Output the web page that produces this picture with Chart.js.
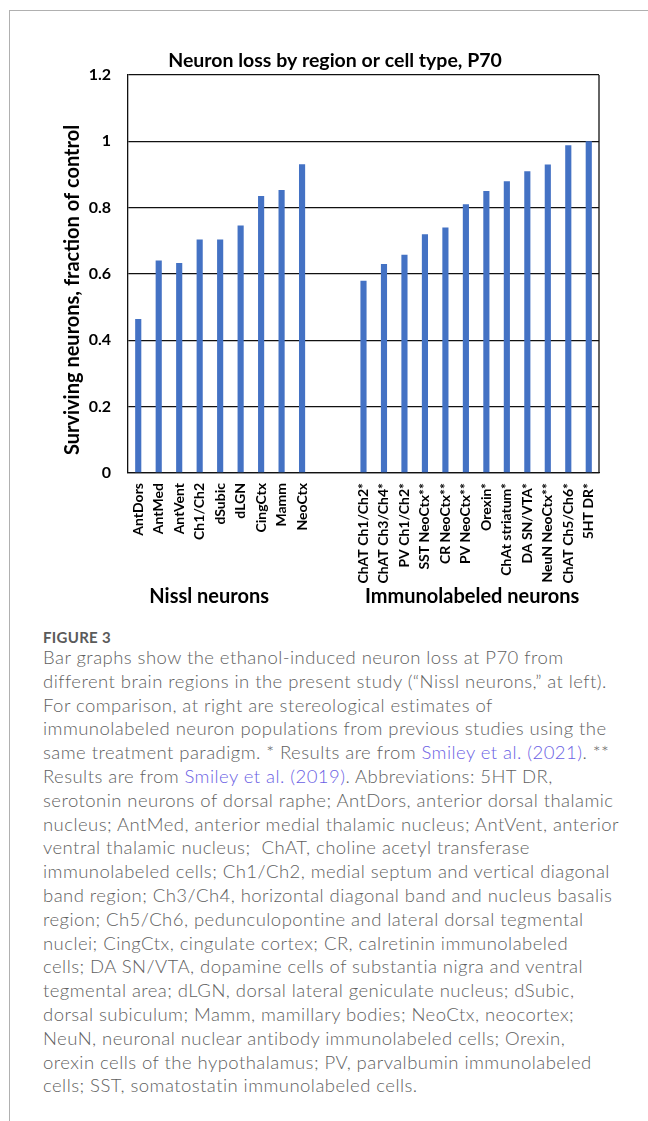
<!DOCTYPE html>
<html>
<head>
<meta charset="utf-8">
<script src="https://cdn.jsdelivr.net/npm/chart.js@4.4.1/dist/chart.umd.min.js"></script>
<style>
  html, body { margin: 0; padding: 0; background: #fff; }
  body { width: 648px; height: 1121px; position: relative; overflow: hidden; }
  #frame { position: absolute; left: 9px; top: 10px; right: 0; bottom: 0;
           border-left: 1.5px solid #b0b0b0; border-top: 1.5px solid #b0b0b0; }
  #wrap { position: absolute; left: 0; top: 0; width: 648px; height: 620px; }
  .figlabel { position: absolute; left: 43px; top: 628px; font: 700 15px/18px Lato, sans-serif;
              color: #5a5a5a; letter-spacing: 0.3px; }
  .caption { position: absolute; left: 43px; top: 646px; width: 600px; white-space: nowrap;
             font: 300 18.5px/23.8px Lato, sans-serif; color: #5f5f5f; letter-spacing: 0.45px; }
  .caption a { color: #6b5fe4; text-decoration: none; }
</style>
</head>
<body>
<div id="frame"></div>
<div id="wrap"><canvas id="c-loss"></canvas></div>
<div class="figlabel">FIGURE 3</div>
<div class="caption">
Bar graphs show the ethanol-induced neuron loss at P70 from<br>
different brain regions in the present study (“Nissl neurons,” at left).<br>
For comparison, at right are stereological estimates of<br>
immunolabeled neuron populations from previous studies using the<br>
same treatment paradigm. * Results are from <a href="#">Smiley et al. (2021)</a>. **<br>
Results are from <a href="#">Smiley et al. (2019)</a>. Abbreviations: 5HT DR,<br>
serotonin neurons of dorsal raphe; AntDors, anterior dorsal thalamic<br>
nucleus; AntMed, anterior medial thalamic nucleus; AntVent, anterior<br>
ventral thalamic nucleus;&nbsp; ChAT, choline acetyl transferase<br>
immunolabeled cells; Ch1/Ch2, medial septum and vertical diagonal<br>
band region; Ch3/Ch4, horizontal diagonal band and nucleus basalis<br>
region; Ch5/Ch6, pedunculopontine and lateral dorsal tegmental<br>
nuclei; CingCtx, cingulate cortex; CR, calretinin immunolabeled<br>
cells; DA SN/VTA, dopamine cells of substantia nigra and ventral<br>
tegmental area; dLGN, dorsal lateral geniculate nucleus; dSubic,<br>
dorsal subiculum; Mamm, mamillary bodies; NeoCtx, neocortex;<br>
NeuN, neuronal nuclear antibody immunolabeled cells; Orexin,<br>
orexin cells of the hypothalamus; PV, parvalbumin immunolabeled<br>
cells; SST, somatostatin immunolabeled cells.
</div>
<script>
// data
const nisslLabels = ['AntDors', 'AntMed', 'AntVent', 'Ch1/Ch2', 'dSubic', 'dLGN', 'CingCtx', 'Mamm', 'NeoCtx'];
const nisslValues = [0.464, 0.641, 0.633, 0.704, 0.704, 0.746, 0.835, 0.853, 0.931];
const immunoLabels = ['ChAT Ch1/Ch2*', 'ChAT Ch3/Ch4*', 'PV Ch1/Ch2*', 'SST NeoCtx**', 'CR NeoCtx**', 'PV NeoCtx**',
                      'Orexin*', 'ChAt striatum*', 'DA SN/VTA*', 'NeuN NeoCtx**', 'ChAT Ch5/Ch6*', '5HT DR*'];
const immunoValues = [0.58, 0.63, 0.658, 0.72, 0.74, 0.81, 0.85, 0.88, 0.91, 0.93, 0.988, 1.0];
const gapSlots = 2; // empty categories between the two groups
const groupTitles = ['Nissl neurons', 'Immunolabeled neurons'];
const chartTitle = 'Neuron loss by region or cell type, P70';
const yTitle = 'Surviving neurons, fraction of control';
const yMin = 0, yMax = 1.2, yStep = 0.2;

const FONT = 'Lato, sans-serif';
const blanks = new Array(gapSlots).fill('');
const labels = [...nisslLabels, ...blanks, ...immunoLabels];
const values = [...nisslValues, ...blanks.map(() => null), ...immunoValues];

const figText = {
    id: 'figText',
    beforeDatasetsDraw(chart) {
        const { ctx, chartArea: a } = chart;
        ctx.save();
        ctx.strokeStyle = '#111';
        ctx.lineWidth = 1.3;
        ctx.beginPath();
        ctx.moveTo(a.right, a.top);
        ctx.lineTo(a.right, a.bottom);
        ctx.stroke();
        ctx.restore();
    },
    afterDraw(chart) {
        const { ctx, chartArea: a, scales: { x } } = chart;
        ctx.save();
        ctx.fillStyle = '#000';
        ctx.textAlign = 'center';
        ctx.textBaseline = 'alphabetic';

        ctx.font = 'bold 19.5px ' + FONT;
        ctx.fillText(chartTitle, a.left + 207, 67);

        // group captions under the category labels
        ctx.font = 'bold 20px ' + FONT;
        const n1 = nisslLabels.length;
        const i0 = n1 + gapSlots, i1 = labels.length - 1;
        const c1 = (x.getPixelForValue(0) + x.getPixelForValue(n1 - 1)) / 2 - 11;
        const c2 = (x.getPixelForValue(i0) + x.getPixelForValue(i1)) / 2 - 4;
        ctx.fillText(groupTitles[0], c1, 603);
        ctx.fillText(groupTitles[1], c2, 603);

        // y axis title
        ctx.translate(73, (a.top + a.bottom) / 2 + 16);
        ctx.rotate(-Math.PI / 2);
        ctx.textBaseline = 'middle';
        ctx.font = 'bold 20px ' + FONT;
        ctx.fillText(yTitle, 0, 0);
        ctx.restore();
    }
};

new Chart(document.getElementById('c-loss'), {
    type: 'bar',
    data: {
        labels: labels,
        datasets: [{
            data: values,
            backgroundColor: '#4472C4',
            borderWidth: 0,
            barPercentage: 0.3,
            categoryPercentage: 1.0
        }]
    },
    options: {
        responsive: true, maintainAspectRatio: false, animation: false,
        layout: { padding: { top: 75, right: 49, left: 0, bottom: 0 } },
        plugins: { legend: { display: false }, tooltip: { enabled: false } },
        scales: {
            x: {
                grid: { display: false, drawTicks: false },
                border: { display: true, color: '#111', width: 1.3 },
                ticks: {
                    autoSkip: false, minRotation: 90, maxRotation: 90, padding: 10,
                    color: '#000', font: { family: FONT, size: 14, weight: 'bold' }
                },
                afterFit: s => { s.height = 620 - 473; }
            },
            y: {
                min: yMin, max: yMax,
                grid: { color: '#111', lineWidth: 1.3, drawTicks: false },
                border: { display: true, color: '#111', width: 1.3 },
                ticks: {
                    stepSize: yStep, padding: 17, color: '#000',
                    font: { family: FONT, size: 16, weight: 'bold' },
                    callback: v => String(+v.toFixed(1))
                },
                afterFit: s => { s.width = 128; }
            }
        }
    },
    plugins: [figText]
});
</script>
</body>
</html>
